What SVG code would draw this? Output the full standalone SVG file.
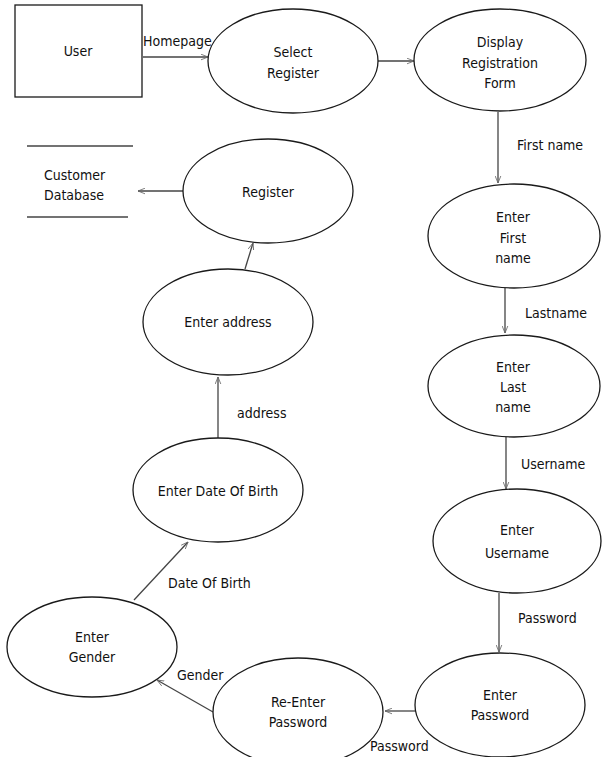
<svg xmlns="http://www.w3.org/2000/svg" width="602" height="757" viewBox="0 0 602 757">
<style>
.n{fill:#fff;stroke:#1a1a1a;stroke-width:1.3}
.t{font-family:"DejaVu Sans Condensed","DejaVu Sans",Verdana,sans-serif;font-stretch:condensed;font-size:14px;fill:#111;text-anchor:middle}
.l{font-family:"DejaVu Sans Condensed","DejaVu Sans",Verdana,sans-serif;font-stretch:condensed;font-size:14px;fill:#111}
.c{stroke:#444;stroke-width:1.3;fill:none;marker-end:url(#a)}
.s{stroke:#444;stroke-width:1.6}
</style>
<defs>
<marker id="a" viewBox="0 0 10 10" refX="10" refY="5" markerWidth="7" markerHeight="7" orient="auto" markerUnits="userSpaceOnUse">
<path d="M0,1 L10,5 L0,9" fill="none" stroke="#666" stroke-width="1.2"/>
</marker>
</defs>
<rect width="602" height="757" fill="#fff"/>
<g id="connectors">
<line class="c" x1="143" y1="57" x2="208" y2="57"/>
<line class="c" x1="378" y1="61" x2="414" y2="61"/>
<line class="c" x1="498" y1="112" x2="498" y2="183"/>
<line class="c" x1="505" y1="288" x2="505" y2="333"/>
<line class="c" x1="506" y1="437" x2="506" y2="489"/>
<line class="c" x1="499" y1="593" x2="499" y2="652"/>
<line class="c" x1="415" y1="711" x2="385" y2="711"/>
<line class="c" x1="213" y1="712" x2="157" y2="680"/>
<line class="c" x1="134" y1="600" x2="188" y2="542"/>
<line class="c" x1="218" y1="438" x2="218" y2="377"/>
<line class="c" x1="245" y1="269" x2="253" y2="243"/>
<line class="c" x1="183" y1="191" x2="138" y2="191"/>
<text class="l" x="143" y="46">Homepage</text>
<text class="l" x="517" y="150">First name</text>
<text class="l" x="525" y="318">Lastname</text>
<text class="l" x="521" y="469">Username</text>
<text class="l" x="518" y="623">Password</text>
<text class="l" x="370" y="751">Password</text>
<text class="l" x="177" y="680">Gender</text>
<text class="l" x="168" y="588">Date Of Birth</text>
<text class="l" x="237" y="418">address</text>
</g>
<g id="user">
<rect class="n" x="15" y="5" width="127" height="92"/>
<text class="t" x="78" y="56">User</text>
</g>
<g id="select-register">
<ellipse class="n" cx="293" cy="61" rx="85" ry="52"/>
<text class="t" x="293" y="57">Select</text>
<text class="t" x="293" y="78">Register</text>
</g>
<g id="display-form">
<ellipse class="n" cx="500" cy="60" rx="86" ry="51"/>
<text class="t" x="500" y="47">Display</text>
<text class="t" x="500" y="68">Registration</text>
<text class="t" x="500" y="88">Form</text>
</g>
<g id="enter-first-name">
<ellipse class="n" cx="514" cy="236" rx="86" ry="52"/>
<text class="t" x="513" y="222">Enter</text>
<text class="t" x="513" y="243">First</text>
<text class="t" x="513" y="263">name</text>
</g>
<g id="enter-last-name">
<ellipse class="n" cx="514" cy="386" rx="86" ry="51"/>
<text class="t" x="513" y="372">Enter</text>
<text class="t" x="513" y="392">Last</text>
<text class="t" x="513" y="412">name</text>
</g>
<g id="enter-username">
<ellipse class="n" cx="517" cy="541" rx="84" ry="52"/>
<text class="t" x="517" y="535">Enter</text>
<text class="t" x="517" y="558">Username</text>
</g>
<g id="enter-password">
<ellipse class="n" cx="500" cy="705" rx="85" ry="52"/>
<text class="t" x="500" y="700">Enter</text>
<text class="t" x="500" y="720">Password</text>
</g>
<g id="reenter-password">
<ellipse class="n" cx="298" cy="712" rx="85" ry="54"/>
<text class="t" x="298" y="707">Re-Enter</text>
<text class="t" x="298" y="727">Password</text>
</g>
<g id="enter-gender">
<ellipse class="n" cx="92" cy="647" rx="85" ry="50"/>
<text class="t" x="92" y="642">Enter</text>
<text class="t" x="92" y="662">Gender</text>
</g>
<g id="enter-dob">
<ellipse class="n" cx="218" cy="490" rx="85" ry="52"/>
<text class="t" x="218" y="496">Enter Date Of Birth</text>
</g>
<g id="enter-address">
<ellipse class="n" cx="228" cy="322" rx="85" ry="53"/>
<text class="t" x="228" y="327">Enter address</text>
</g>
<g id="register">
<ellipse class="n" cx="268" cy="191" rx="85" ry="52"/>
<text class="t" x="268" y="197">Register</text>
</g>
<g id="customer-database">
<line class="s" x1="27" y1="146" x2="133" y2="146"/>
<line class="s" x1="27" y1="217" x2="128" y2="217"/>
<text class="l" x="44" y="180">Customer</text>
<text class="l" x="44" y="200">Database</text>
</g>
</svg>
